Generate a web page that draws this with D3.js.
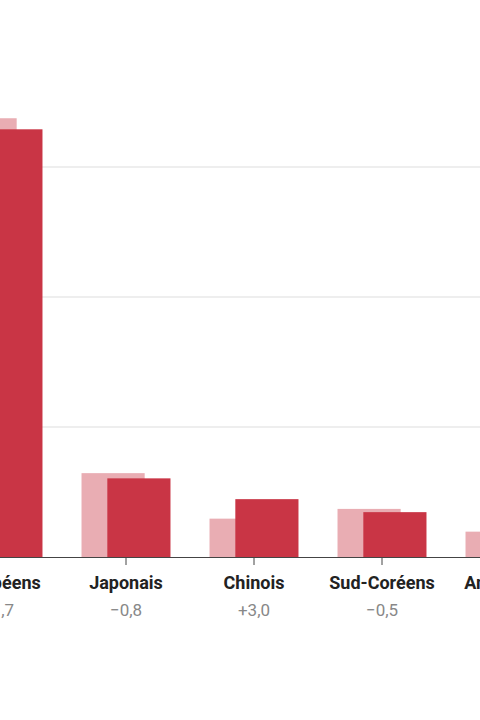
<!DOCTYPE html>
<html>
<head>
<meta charset="utf-8">
<script src="https://cdn.jsdelivr.net/npm/d3@7"></script>
<style>
  html, body { margin: 0; padding: 0; background: #fff; }
  svg { display: block; font-family: Roboto, "Noto Sans", sans-serif; }
</style>
</head>
<body>
<svg id="chart" width="480" height="720"></svg>
<script>
const categories = ["Européens", "Japonais", "Chinois", "Sud-Coréens", "Américains"];
const previousValues = [67.5, 12.9, 5.9, 7.4, 3.9];
const currentValues = [65.8, 12.1, 8.9, 6.9, 4.5];
const changeLabels = ["−1,7", "−0,8", "+3,0", "−0,5", "+0,6"];
const gridTicks = [20, 40, 60];

const svg = d3.select("#chart");

const x = d3.scaleBand()
  .domain(categories)
  .range([-66, 574])
  .paddingInner(0.305)
  .paddingOuter(0.1525);

const y = d3.scaleLinear()
  .domain([0, 80])
  .range([557, 557 - 6.5 * 80]);

const barW = x.bandwidth() * 0.71;

// gridlines
svg.append("g")
  .selectAll("line")
  .data(gridTicks)
  .join("line")
  .attr("x1", 0).attr("x2", 480)
  .attr("y1", d => y(d)).attr("y2", d => y(d))
  .attr("stroke", "#e8e8e8")
  .attr("stroke-width", 1.5);

const groups = categories.map((c, i) => ({ c, prev: previousValues[i], cur: currentValues[i], chg: changeLabels[i] }));

// previous (light)
svg.append("g")
  .selectAll("rect")
  .data(groups)
  .join("rect")
  .attr("x", d => x(d.c))
  .attr("y", d => y(d.prev))
  .attr("width", barW)
  .attr("height", d => y(0) - y(d.prev))
  .attr("fill", "#e9adb3");

// current (dark)
svg.append("g")
  .selectAll("rect")
  .data(groups)
  .join("rect")
  .attr("x", d => x(d.c) + x.bandwidth() - barW)
  .attr("y", d => y(d.cur))
  .attr("width", barW)
  .attr("height", d => y(0) - y(d.cur))
  .attr("fill", "#c93545");

// axis
const axis = d3.axisBottom(x).tickSize(8).tickFormat("");
const ag = svg.append("g").attr("transform", `translate(0,${y(0)})`).call(axis);
ag.select(".domain").attr("stroke", "#444").attr("d", "M-100,0.5H600");
ag.selectAll(".tick line").attr("stroke", "#444");

// labels
const cx = d => x(d.c) + x.bandwidth() / 2;
svg.append("g")
  .selectAll("text")
  .data(groups)
  .join("text")
  .attr("x", cx)
  .attr("y", 589)
  .attr("text-anchor", "middle")
  .attr("font-size", 18)
  .attr("font-weight", 700)
  .attr("fill", "#222")
  .text(d => d.c);

svg.append("g")
  .selectAll("text")
  .data(groups)
  .join("text")
  .attr("x", cx)
  .attr("y", 616)
  .attr("text-anchor", "middle")
  .attr("font-size", 17)
  .attr("fill", "#888")
  .text(d => d.chg);
</script>
</body>
</html>
